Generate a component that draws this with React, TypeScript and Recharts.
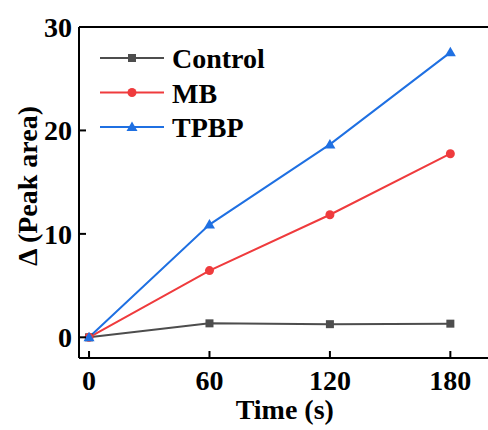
import React from "react";
import { LineChart, Line, XAxis, YAxis, ReferenceLine } from "recharts";

const times = [0, 60, 120, 180];
const controlValues = [0, 1.35, 1.27, 1.32];
const mbValues = [0, 6.45, 11.85, 17.75];
const tpbpValues = [0, 10.9, 18.65, 27.55];
const xTicks = [0, 60, 120, 180];
const yTicks = [0, 10, 20, 30];

const seriesNames = ["Control", "MB", "TPBP"];

const series = [
  { key: "control", name: seriesNames[0], color: "#4d4d4d", shape: "square" },
  { key: "mb", name: seriesNames[1], color: "#ef3b3d", shape: "circle" },
  { key: "tpbp", name: seriesNames[2], color: "#1f70e2", shape: "triangle" },
];

const data = times.map((t, i) => ({
  time: t,
  control: controlValues[i],
  mb: mbValues[i],
  tpbp: tpbpValues[i],
}));

const textStyle: React.CSSProperties = {
  fontFamily: "'Liberation Serif', 'Times New Roman', serif",
  fontWeight: 700,
  fontSize: 28,
};

const Marker = ({ cx, cy, shape, color }: { cx: number; cy: number; shape: string; color: string }) => {
  if (shape === "square") {
    return <rect x={cx - 4} y={cy - 4} width={8} height={8} fill={color} />;
  }
  if (shape === "circle") {
    return <circle cx={cx} cy={cy} r={4.5} fill={color} />;
  }
  return <polygon points={`${cx},${cy - 5.5} ${cx + 5.5},${cy + 4} ${cx - 5.5},${cy + 4}`} fill={color} />;
};

const XTick = (props: any) => {
  const { x, y, payload } = props;
  return (
    <g>
      <line x1={x} x2={x} y1={y} y2={y - 7} stroke="#000" strokeWidth={2} />
      <text x={x} y={y + 32} textAnchor="middle" style={textStyle} fill="#000">
        {payload.value}
      </text>
    </g>
  );
};

const YTick = (props: any) => {
  const { x, y, payload } = props;
  return (
    <g>
      <line x1={x} x2={x + 7} y1={y} y2={y} stroke="#000" strokeWidth={2} />
      <text x={x - 7} y={y + 10} textAnchor="end" style={textStyle} fill="#000">
        {payload.value}
      </text>
    </g>
  );
};

export default function App() {
  return (
    <div style={{ position: "absolute", left: 0, top: 0, width: 488, height: 430, overflow: "hidden", background: "#fff" }}>
      <LineChart width={500} height={430} data={data} margin={{ top: 27, right: 9.5, left: 0, bottom: 0 }}>
        <XAxis
          type="number"
          dataKey="time"
          domain={[-5, 200]}
          ticks={xTicks}
          allowDataOverflow
          height={72}
          tickSize={0}
          tickMargin={0}
          tickLine={false}
          tick={<XTick />}
          axisLine={{ stroke: "#000", strokeWidth: 2 }}
          label={{
            content: ({ viewBox }: any) => (
              <text
                x={viewBox.x + viewBox.width / 2}
                y={viewBox.y + 61}
                textAnchor="middle"
                style={textStyle}
                fill="#000"
              >
                Time (s)
              </text>
            ),
          }}
        />
        <YAxis
          type="number"
          domain={[-2, 30]}
          ticks={yTicks}
          allowDataOverflow
          width={79}
          tickSize={0}
          tickMargin={0}
          tickLine={false}
          tick={<YTick />}
          axisLine={{ stroke: "#000", strokeWidth: 2 }}
          label={{
            content: () => (
              <text
                x={27}
                y={186}
                transform="rotate(-90, 27, 186)"
                textAnchor="middle"
                dominantBaseline="central"
                style={textStyle}
                fill="#000"
              >
                Δ (Peak area)
              </text>
            ),
          }}
        />
        <ReferenceLine y={30} stroke="#000" strokeWidth={2} />
        <ReferenceLine x={200} stroke="#000" strokeWidth={2} />
        {series.map((s) => (
          <Line
            key={s.key}
            type="linear"
            dataKey={s.key}
            name={s.name}
            stroke={s.color}
            strokeWidth={2}
            isAnimationActive={false}
            dot={(p: any) => <Marker key={`${s.key}-${p.index}`} cx={p.cx} cy={p.cy} shape={s.shape} color={s.color} />}
            activeDot={false}
          />
        ))}
      </LineChart>
      <svg width={488} height={430} style={{ position: "absolute", left: 0, top: 0, pointerEvents: "none" }}>
        {series.map((s, i) => {
          const y = 58 + i * 34.5;
          return (
            <g key={s.key}>
              <line x1={100} x2={164} y1={y} y2={y} stroke={s.color} strokeWidth={2} />
              <Marker cx={132} cy={y} shape={s.shape} color={s.color} />
              <text x={172} y={y + 10} style={textStyle} fill="#000">
                {s.name}
              </text>
            </g>
          );
        })}
      </svg>
    </div>
  );
}
